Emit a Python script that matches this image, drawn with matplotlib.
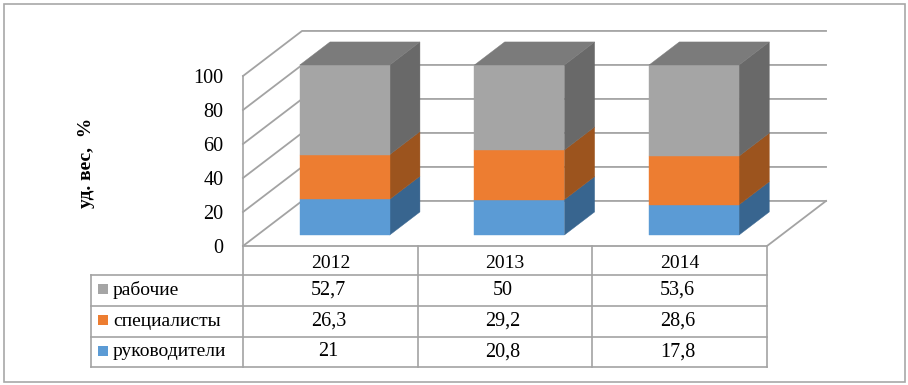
import matplotlib.pyplot as plt
from matplotlib.patches import Polygon, Rectangle

plt.rcParams["font.family"] = ["Liberation Serif", "DejaVu Serif"]

years = ["2012", "2013", "2014"]
labels = ["рабочие", "специалисты", "руководители"]
rabochie = [52.7, 50, 53.6]
specialisty = [26.3, 29.2, 28.6]
rukovoditeli = [21, 20.8, 17.8]
yticks = [0, 20, 40, 60, 80, 100]

# front, side and top colours, bottom of the stack first
series = [
    (rukovoditeli, "#5B9BD5", "#38658F", "#38658F"),
    (specialisty, "#ED7D31", "#9C541E", "#9C541E"),
    (rabochie, "#A5A5A5", "#696969", "#7B7B7B"),
]

W, H = 908, 385
GRID = "#a3a3a3"
DX, DY = 0.338, 26.5  # shift of the back wall in data units
BAR_W = 0.515
D0, D1 = 0.244, 0.756  # depth of bar front and back


def depth(x, y, d):
    return (x + DX * d, y + DY * d)


fig = plt.figure(figsize=(W / 100, H / 100), dpi=100)

# overlay in pixel coords for the frame and the data table
tb = fig.add_axes([0, 0, 1, 1])
tb.set_xlim(0, W)
tb.set_ylim(H, 0)
tb.axis("off")
tb.add_patch(Rectangle((3.5, 3.5), 901, 378, fill=False, ec="#a8a8a8", lw=1.2))

ax = fig.add_axes([243 / W, 1 - 246 / H, 524 / W, 170 / H])
ax.set_xlim(0, 3)
ax.set_ylim(0, 100)
ax.patch.set_visible(False)
for s in ["top", "right", "bottom"]:
    ax.spines[s].set_visible(False)
ax.spines["left"].set_color(GRID)
ax.spines["left"].set_linewidth(1.2)
ax.set_xticks([])
ax.set_yticks(yticks)
ax.tick_params(axis="y", length=0, pad=14, labelsize=14.5)
ax.set_ylabel("уд. вес,  %", fontsize=14, fontweight="bold", rotation=90)
ax.yaxis.set_label_coords(-148 / 524, 0.49)

# walls and floor
for v in yticks:
    x0, y0 = depth(0, v, 0)
    x1, y1 = depth(0, v, 1)
    ax.plot([x0, x1, 3 + DX], [y0, y1, y1], color=GRID, lw=1.3, clip_on=False, zorder=1)
x1, y1 = depth(3, 0, 1)
ax.plot([0, 3, x1], [0, 0, y1], color=GRID, lw=1.3, clip_on=False, zorder=1)

# bars, drawn as oblique boxes
for i in range(len(years)):
    left = i + 0.5 - BAR_W / 2
    right = i + 0.5 + BAR_W / 2
    bottom = 0
    for values, front, side, top in series:
        v0, v1 = bottom, bottom + values[i]
        ax.add_patch(Polygon(
            [depth(right, v0, D0), depth(right, v0, D1), depth(right, v1, D1), depth(right, v1, D0)],
            fc=side, ec=side, lw=0.3, clip_on=False, zorder=2))
        ax.add_patch(Polygon(
            [depth(left, v0, D0), depth(right, v0, D0), depth(right, v1, D0), depth(left, v1, D0)],
            fc=front, ec=front, lw=0.3, clip_on=False, zorder=3))
        bottom = v1
    ax.add_patch(Polygon(
        [depth(left, bottom, D0), depth(right, bottom, D0), depth(right, bottom, D1), depth(left, bottom, D1)],
        fc=series[-1][3], ec=series[-1][3], lw=0.3, clip_on=False, zorder=3))

# data table
cols = [243, 417.7, 592.3, 767]
rows = [246, 274.5, 305.7, 336.7, 367.3]
for y in rows[1:]:
    tb.plot([91, 767], [y, y], color=GRID, lw=1.2)
tb.plot([91, 91], [rows[1], rows[-1]], color=GRID, lw=1.2)
for x in cols:
    tb.plot([x, x], [rows[0], rows[-1]], color=GRID, lw=1.2)

for j, year in enumerate(years):
    tb.text((cols[j] + cols[j + 1]) / 2, 263, year, fontsize=14, ha="center", va="center")

for r, (name, col, values) in enumerate(zip(labels, ["#A5A5A5", "#ED7D31", "#5B9BD5"],
                                            [rabochie, specialisty, rukovoditeli])):
    cy = (rows[r + 1] + rows[r + 2]) / 2
    tb.add_patch(Rectangle((98, cy - 6), 10, 10, fc=col, ec="none"))
    tb.text(113, cy, name, fontsize=14, ha="left", va="center")
    for j, v in enumerate(values):
        tb.text((cols[j] + cols[j + 1]) / 2 - 2, cy, str(v).replace(".", ","),
                fontsize=14.5, ha="center", va="center")

fig.savefig("out.png", dpi=100)
